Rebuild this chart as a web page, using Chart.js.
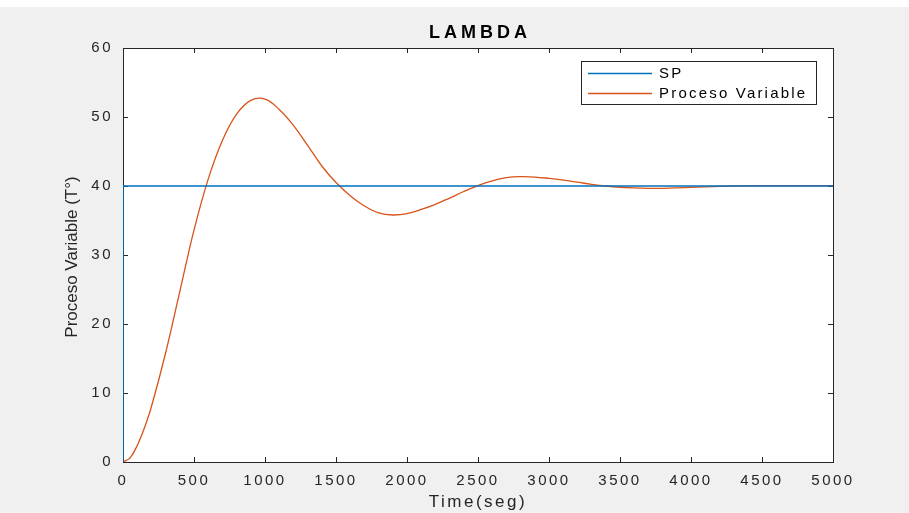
<!DOCTYPE html>
<html>
<head>
<meta charset="utf-8">
<script src="https://cdn.jsdelivr.net/npm/chart.js@4/dist/chart.umd.min.js"></script>
<style>
    html, body { margin: 0; padding: 0; background: #f0f0f0; }
    #wrap { position: relative; width: 909px; height: 513px; }
    #topStrip { position: absolute; left: 0; top: 0; width: 909px; height: 7px; background: #ffffff; }
</style>
</head>
<body>
<div id="wrap">
    <canvas id="lambdaChart" width="909" height="513"></canvas>
    <div id="topStrip"></div>
</div>
<script>
// values
const timeSec = [0, 50, 100, 150, 200, 300, 400, 500, 600, 700, 800, 900,
    1000, 1100, 1200, 1300, 1400, 1500, 1600, 1700, 1800, 1900,
    2000, 2100, 2200, 2300, 2400, 2500, 2600, 2700, 2800, 2900,
    3000, 3100, 3200, 3300, 3400, 3500, 3600, 3700, 3800, 3900,
    4000, 4100, 4200, 4300, 4400, 4500, 4600, 4700, 4800, 4900, 5000];

const processVariable = [0, 0.6, 2.4, 4.9, 8.0, 15.8, 24.7, 33.6, 41.0, 46.6, 50.4, 52.4,
    52.6, 51.1, 48.8, 45.9, 42.9, 40.5, 38.6, 37.1, 36.1, 35.8,
    36.0, 36.6, 37.35, 38.25, 39.2, 40.05, 40.75, 41.2, 41.35, 41.3,
    41.1, 40.85, 40.55, 40.25, 40.0, 39.82, 39.72, 39.67, 39.67, 39.72,
    39.8, 39.88, 39.95, 40.0, 40.03, 40.05, 40.05, 40.05, 40.05, 40.05, 40.05];

const spTime = [0, 0, 5000];
const spValue = [0, 40, 40];

const xTicks = [0, 500, 1000, 1500, 2000, 2500, 3000, 3500, 4000, 4500, 5000];
const yTicks = [0, 10, 20, 30, 40, 50, 60];

const toPoints = (xs, ys) => xs.map((x, i) => ({ x: x, y: ys[i] }));

const axisColor = '#262626';
const fontFamily = '"Liberation Sans", Arial, Helvetica, sans-serif';

// MATLAB-like box, inward ticks, title, y label and legend
const matlabAxes = {
    id: 'matlabAxes',
    beforeDraw(chart) {
        chart.ctx.letterSpacing = '2.5px';
    },
    beforeDatasetsDraw(chart) {
        const { ctx, chartArea: a, scales } = chart;
        ctx.save();
        ctx.fillStyle = '#ffffff';
        ctx.fillRect(a.left, a.top, a.right - a.left, a.bottom - a.top);
        ctx.strokeStyle = axisColor;
        ctx.lineWidth = 1;
        ctx.strokeRect(a.left + 0.5, a.top + 0.5, a.right - a.left, a.bottom - a.top);
        const len = 5;
        ctx.beginPath();
        xTicks.forEach(v => {
            const px = Math.round(scales.x.getPixelForValue(v)) + 0.5;
            ctx.moveTo(px, a.bottom); ctx.lineTo(px, a.bottom - len);
            ctx.moveTo(px, a.top); ctx.lineTo(px, a.top + len);
        });
        yTicks.forEach(v => {
            const py = Math.round(scales.y.getPixelForValue(v)) + 0.5;
            ctx.moveTo(a.left, py); ctx.lineTo(a.left + len, py);
            ctx.moveTo(a.right, py); ctx.lineTo(a.right - len, py);
        });
        ctx.stroke();
        ctx.restore();
    },
    afterDraw(chart) {
        const { ctx, chartArea: a } = chart;
        ctx.save();

        // title
        ctx.letterSpacing = '4px';
        ctx.fillStyle = '#000000';
        ctx.font = 'bold 18px ' + fontFamily;
        ctx.textAlign = 'center';
        ctx.textBaseline = 'middle';
        ctx.fillText('LAMBDA', (a.left + a.right) / 2 + 2, 33);

        // y label
        ctx.letterSpacing = '0px';
        ctx.fillStyle = axisColor;
        ctx.font = '17px ' + fontFamily;
        ctx.translate(72, (a.top + a.bottom) / 2 + 2);
        ctx.rotate(-Math.PI / 2);
        ctx.fillText('Proceso Variable (T°)', 0, 0);
        ctx.setTransform(1, 0, 0, 1, 0, 0);

        // legend
        const box = { left: 581, top: 61, right: 816, bottom: 104 };
        ctx.fillStyle = '#ffffff';
        ctx.fillRect(box.left, box.top, box.right - box.left, box.bottom - box.top);
        ctx.strokeStyle = axisColor;
        ctx.lineWidth = 1;
        ctx.strokeRect(box.left + 0.5, box.top + 0.5, box.right - box.left, box.bottom - box.top);
        const rows = chart.data.datasets.map(d => ({ label: d.label, color: d.borderColor }));
        ctx.letterSpacing = '2.2px';
        ctx.font = '15px ' + fontFamily;
        ctx.textAlign = 'left';
        rows.forEach((r, i) => {
            const y = 73 + i * 20;
            ctx.strokeStyle = r.color;
            ctx.lineWidth = 1.3;
            ctx.beginPath();
            ctx.moveTo(588, y + 0.5);
            ctx.lineTo(652, y + 0.5);
            ctx.stroke();
            ctx.fillStyle = '#000000';
            ctx.fillText(r.label, 659, y + 1);
        });
        ctx.restore();
    }
};

new Chart(document.getElementById('lambdaChart'), {
    type: 'line',
    data: {
        datasets: [
            {
                label: 'SP',
                data: toPoints(spTime, spValue),
                borderColor: '#0072BD',
                borderWidth: 1.6,
                pointRadius: 0,
                tension: 0
            },
            {
                label: 'Proceso Variable',
                data: toPoints(timeSec, processVariable),
                borderColor: '#D95319',
                borderWidth: 1.3,
                pointRadius: 0,
                tension: 0.4
            }
        ]
    },
    options: {
        responsive: false,
        animation: false,
        layout: { padding: { left: 0, top: 48, right: 76, bottom: 0 } },
        plugins: {
            legend: { display: false },
            title: { display: false },
            tooltip: { enabled: false }
        },
        scales: {
            x: {
                type: 'linear',
                min: 0,
                max: 5000,
                afterFit: s => { s.height = 51; },
                afterBuildTicks: s => { s.ticks = xTicks.map(v => ({ value: v })); },
                grid: { display: false, drawTicks: false, tickLength: 0 },
                border: { display: false },
                ticks: {
                    color: axisColor,
                    padding: 10,
                    maxRotation: 0,
                    callback: v => String(v),
                    font: { family: fontFamily, size: 15 }
                },
                title: {
                    display: true,
                    text: 'Time(seg)',
                    color: axisColor,
                    padding: { top: 0, bottom: 0 },
                    font: { family: fontFamily, size: 17 }
                }
            },
            y: {
                type: 'linear',
                min: 0,
                max: 60,
                afterFit: s => { s.width = 123; },
                afterBuildTicks: s => { s.ticks = yTicks.map(v => ({ value: v })); },
                grid: { display: false, drawTicks: false, tickLength: 0 },
                border: { display: false },
                ticks: {
                    color: axisColor,
                    padding: 10,
                    callback: v => String(v),
                    font: { family: fontFamily, size: 15 }
                }
            }
        }
    },
    plugins: [matlabAxes]
});
</script>
</body>
</html>
